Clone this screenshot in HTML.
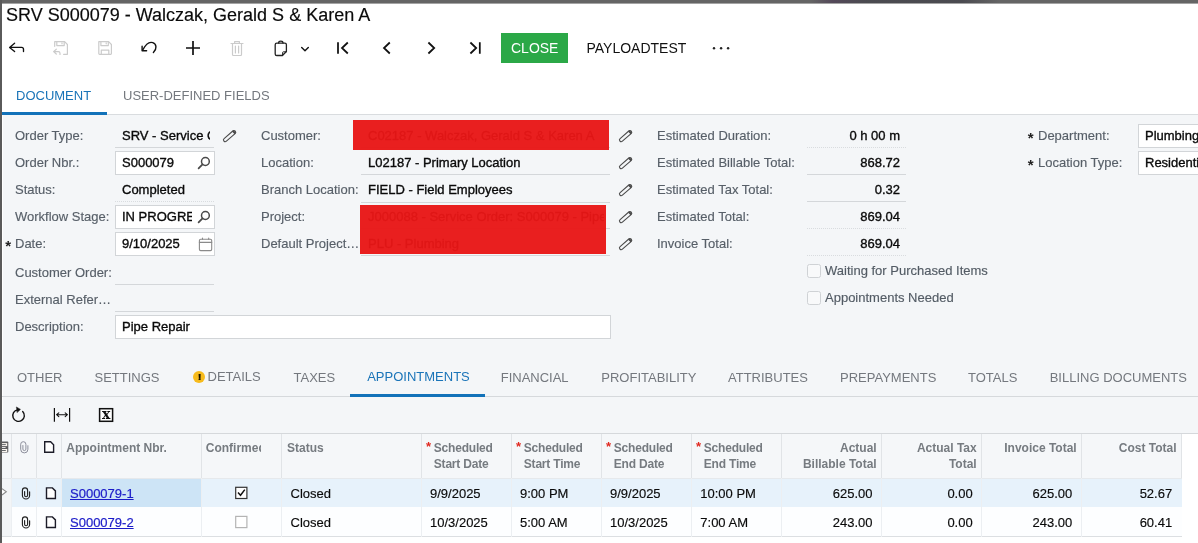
<!DOCTYPE html>
<html><head><meta charset="utf-8"><title>Service Orders</title>
<style>
html,body{margin:0;padding:0}
body{width:1198px;height:543px;overflow:hidden;background:#fff;position:relative;font-family:"Liberation Sans",sans-serif;font-size:13px;color:#111}
.a{position:absolute}
.t{position:absolute;white-space:nowrap;line-height:16px;font-size:13px}
.lb{color:#575f68;-webkit-text-stroke:0.15px #575f68}
.v{color:#0a0a0a;-webkit-text-stroke:0.35px #0a0a0a}
.tab{color:#74787e}
.box{position:absolute;background:#fff;border:1px solid #d2d5d8;box-sizing:border-box}
.ul{position:absolute;height:1px;background:#d4d7da}
.ud{position:absolute;height:0;border-top:1px dotted #d9dcdf}
svg{position:absolute;overflow:visible}
.h{position:absolute;white-space:nowrap;line-height:16px;font-size:12px;font-weight:bold;color:#767b80}
.vl{position:absolute;width:1px;background:#e1e4e7}
.r{text-align:right}
.star{color:#e0281f}
.gv{color:#0a0a0a;-webkit-text-stroke:0.15px #0a0a0a}
</style></head><body>
<!-- window chrome -->
<div class="a" style="left:0;top:0;width:1198px;height:3px;background:#656565"></div>
<div class="a" style="left:0;top:3px;width:1198px;height:1px;background:#a4a4a4"></div>
<div class="a" style="left:810px;top:0;width:190px;height:3px;background:linear-gradient(90deg,rgba(80,72,86,0),rgba(82,70,88,.9) 12%,rgba(72,72,78,.9) 30%,rgba(72,72,78,.9) 80%,rgba(80,78,86,0))"></div>
<div class="a" style="left:0;top:0;width:2px;height:543px;background:#5a5a5a"></div>

<!-- title -->
<div class="t" id="title" style="left:6px;top:4px;font-size:18px;line-height:22px;color:#0a0a0a;-webkit-text-stroke:0.15px #0a0a0a">SRV S000079 - Walczak, Gerald S &amp; Karen A</div>

<!-- toolbar -->
<svg id="tb" style="left:0;top:0" width="760" height="70" fill="none" stroke="#111" stroke-width="1.4" stroke-linecap="round" stroke-linejoin="round">
<!-- back -->
<path d="M14.6 43.2 L9.6 47.4 L14.6 51.6 M9.9 47.4 H21.6 Q23.5 47.4 23.5 49.3 V51.6" stroke-width="1.35"/>
<!-- save & close (disabled) -->
<g stroke="#cbcbcb" stroke-width="1.2">
<path d="M54.7 46.3 V41.7 H64.6 L67.4 44.5 V54.3 H63.6"/>
<path d="M56.8 41.7 V45.6 H64.2 V41.7 M62 42.8 V43.8"/>
<path d="M56.3 49.2 L53.6 51.6 L56.3 54 M53.9 51.6 H58.4 Q60 51.6 60 53.2 V54.4"/>
</g>
<!-- save (disabled) -->
<g stroke="#cbcbcb" stroke-width="1.2">
<path d="M98.8 41.7 H108.6 L111.4 44.5 V53.6 Q111.4 54.4 110.6 54.4 H99.6 Q98.8 54.4 98.8 53.6 Z"/>
<path d="M100.9 41.7 V45.6 H108.3 V41.7 M106.2 42.8 V43.8"/>
<path d="M101.3 54.4 V50.1 H108.8 V54.4"/>
</g>
<!-- undo -->
<path d="M153.4 52.4 C157.2 48.8 156.6 44.2 152.8 42.7 C149.2 41.4 146 43.8 142.6 50.2" stroke-width="1.4"/>
<path d="M142.1 46.2 V50.8 H146.6" stroke-width="1.4"/>
<!-- plus -->
<path d="M193 41 V55 M186 48 H200" stroke-width="1.7" stroke-linecap="butt"/>
<!-- trash (disabled) -->
<g stroke="#cbcbcb" stroke-width="1.2">
<path d="M231 43.5 H243 M234.6 43.5 V41.6 H239.4 V43.5 M232.5 43.5 V54.6 Q232.5 55.5 233.4 55.5 H240.6 Q241.5 55.5 241.5 54.6 V43.5 M235.4 46 V53 M238.6 46 V53"/>
</g>
<!-- clipboard -->
<g stroke="#222" stroke-width="1.3">
<path d="M282.4 55.5 H276.8 Q275.2 55.5 275.2 53.9 V44.7 Q275.2 43.1 276.8 43.1 H284.8 Q286.4 43.1 286.4 44.7 V51.5 Z"/>
<path d="M278.6 43 Q278.6 41.2 280.8 41.2 Q283 41.2 283 43"/>
<path d="M282.6 55.2 V52.6 Q282.6 51.8 283.4 51.8 H286.2" stroke-width="1"/>
</g>
<path d="M301.7 47.5 L305 50.7 L308.3 47.5" stroke-width="1.4"/>
<!-- nav -->
<g stroke-width="1.75" stroke-linecap="butt" stroke-linejoin="miter">
<path d="M338 42.2 V53.8 M347.8 42.5 L342 48 L347.8 53.5"/>
<path d="M389.8 42.5 L384 48 L389.8 53.5"/>
<path d="M428.4 42.5 L434.2 48 L428.4 53.5"/>
<path d="M470.4 42.5 L476.2 48 L470.4 53.5 M479.8 42.2 V53.8"/>
</g>
<!-- dots -->
<g fill="#222" stroke="none"><circle cx="714" cy="48.2" r="1.2"/><circle cx="721.1" cy="48.2" r="1.2"/><circle cx="728.1" cy="48.2" r="1.2"/></g>
</svg>
<div class="a" style="left:501px;top:33px;width:66.5px;height:30px;background:#2ba847"></div>
<div class="t" style="left:511px;top:40px;font-size:14px;line-height:16px;color:#fff">CLOSE</div>
<div class="t" style="left:586.5px;top:40px;font-size:14px;line-height:16px;color:#111">PAYLOADTEST</div>


<!-- tabs -->
<div class="t" style="left:16px;top:88px;color:#1a74b8">DOCUMENT</div>
<div class="t tab" style="left:123px;top:88px">USER-DEFINED FIELDS</div>
<div class="a" style="left:2px;top:114px;width:1196px;height:1px;background:#d9dcdf"></div>
<div class="a" style="left:2px;top:111.8px;width:105px;height:3.2px;background:#1272b9"></div>

<!-- form background -->
<div class="a" id="formbg" style="left:3.2px;top:115px;width:1195px;height:319px;background:#f4f6f8"></div>

<div class="t lb" style="left:15px;top:127.5px;">Order Type:</div>
<div class="t lb" style="left:15px;top:154.5px;">Order Nbr.:</div>
<div class="t lb" style="left:15px;top:181.5px;">Status:</div>
<div class="t lb" style="left:15px;top:208.5px;">Workflow Stage:</div>
<div class="t lb" style="left:15px;top:235.5px;">Date:</div>
<div class="t lb" style="left:15px;top:264.5px;">Customer Order:</div>
<div class="t lb" style="left:15px;top:291.5px;">External Refer…</div>
<div class="t lb" style="left:15px;top:318.5px;">Description:</div>
<div class="t" style="left:5.3px;top:237.6px;font-size:15px;font-weight:bold;color:#222">*</div>
<div class="t v" style="left:122px;top:127.5px;width:88px;overflow:hidden">SRV - Service Order</div>
<div class="ul" style="left:115px;top:147px;width:99px"></div>
<div class="box" style="left:115px;top:151px;width:99.5px;height:24px"></div>
<div class="t v" style="left:122px;top:154.5px;">S000079</div>
<div class="t v" style="left:122px;top:181.5px;">Completed</div>
<div class="ud" style="left:115px;top:201px;width:99px"></div>
<div class="box" style="left:115px;top:205px;width:99.5px;height:24px"></div>
<div class="t v" style="left:122px;top:208.5px;width:70px;overflow:hidden">IN PROGRESS</div>
<div class="box" style="left:115px;top:232px;width:99.5px;height:24px"></div>
<div class="t v" style="left:122px;top:235.5px;">9/10/2025</div>
<div class="ul" style="left:115px;top:284px;width:99px"></div>
<div class="ul" style="left:115px;top:310.5px;width:99px"></div>
<div class="box" style="left:115px;top:315px;width:495.5px;height:24px"></div>
<div class="t v" style="left:122px;top:318.5px;">Pipe Repair</div>
<div class="t lb" style="left:261px;top:127.5px;">Customer:</div>
<div class="t lb" style="left:261px;top:154.5px;">Location:</div>
<div class="t lb" style="left:261px;top:181.5px;">Branch Location:</div>
<div class="t lb" style="left:261px;top:208.5px;">Project:</div>
<div class="t lb" style="left:261px;top:235.5px;">Default Project…</div>
<div class="t v" style="left:368px;top:127.5px;">C02187 - Walczak, Gerald S &amp; Karen A</div>
<div class="t v" style="left:368px;top:154.5px;">L02187 - Primary Location</div>
<div class="t v" style="left:368px;top:181.5px;">FIELD - Field Employees</div>
<div class="t v" style="left:368px;top:208.5px;width:236px;overflow:hidden">J000088 - Service Order: S000079 - Pipe Repair</div>
<div class="t v" style="left:368px;top:235.5px;">PLU - Plumbing</div>
<div class="ul" style="left:361px;top:147px;width:249px"></div>
<div class="ul" style="left:361px;top:174px;width:249px"></div>
<div class="ul" style="left:361px;top:201.5px;width:249px"></div>
<div class="ul" style="left:361px;top:228px;width:249px"></div>
<div class="ul" style="left:361px;top:255px;width:249px"></div>
<div class="a" style="left:353px;top:119.5px;width:256px;height:30.5px;background:rgba(232,22,22,0.96)"></div>
<div class="a" style="left:360px;top:204.5px;width:245.5px;height:49px;background:rgba(232,22,22,0.96)"></div>
<div class="t lb" style="left:657px;top:127.5px;">Estimated Duration:</div>
<div class="t lb" style="left:657px;top:154.5px;">Estimated Billable Total:</div>
<div class="t lb" style="left:657px;top:181.5px;">Estimated Tax Total:</div>
<div class="t lb" style="left:657px;top:208.5px;">Estimated Total:</div>
<div class="t lb" style="left:657px;top:235.5px;">Invoice Total:</div>
<div class="t v r" style="left:807px;width:93px;top:127.5px">0 h 00 m</div>
<div class="t v r" style="left:807px;width:93px;top:154.5px">868.72</div>
<div class="t v r" style="left:807px;width:93px;top:181.5px">0.32</div>
<div class="t v r" style="left:807px;width:93px;top:208.5px">869.04</div>
<div class="t v r" style="left:807px;width:93px;top:235.5px">869.04</div>
<div class="ud" style="left:807px;top:147px;width:99px"></div>
<div class="ul" style="left:807px;top:174px;width:99px"></div>
<div class="ul" style="left:807px;top:201px;width:99px"></div>
<div class="ud" style="left:807px;top:228px;width:99px"></div>
<div class="ud" style="left:807px;top:255px;width:99px"></div>
<div class="a" style="left:807px;top:264px;width:14px;height:14px;box-sizing:border-box;border:1px solid #cfd2d5;border-radius:2.5px;background:#f8f9fa"></div>
<div class="t lb" style="left:825px;top:262.5px;color:#525b64">Waiting for Purchased Items</div>
<div class="a" style="left:807px;top:291px;width:14px;height:14px;box-sizing:border-box;border:1px solid #cfd2d5;border-radius:2.5px;background:#f8f9fa"></div>
<div class="t lb" style="left:825px;top:289.5px;color:#525b64">Appointments Needed</div>
<div class="t" style="left:1027.8px;top:129.8px;font-size:15px;font-weight:bold;color:#222">*</div>
<div class="t" style="left:1027.8px;top:156.8px;font-size:15px;font-weight:bold;color:#222">*</div>
<div class="t lb" style="left:1038px;top:127.5px;">Department:</div>
<div class="t lb" style="left:1038px;top:154.5px;">Location Type:</div>
<div class="box" style="left:1137.5px;top:124px;width:80px;height:24px"></div>
<div class="box" style="left:1137.5px;top:151px;width:80px;height:24px"></div>
<div class="t v" style="left:1145px;top:127.5px;">Plumbing</div>
<div class="t v" style="left:1145px;top:154.5px;">Residential</div>

<svg id="ficons" style="left:0;top:0" width="1198" height="440" fill="none" stroke="#4a4a4a" stroke-width="1.1" stroke-linecap="round">
<g transform="translate(229.6 136.1) rotate(-41)"><rect x="-7.5" y="-1.75" width="15" height="3.5" rx="1.75" ry="1.75"/><path d="M5.5 -1.6 V1.6 M6.4 -1.3 V1.3" stroke-width="1.1"/></g>
<g transform="translate(625.6 136.1) rotate(-41)"><rect x="-7.5" y="-1.75" width="15" height="3.5" rx="1.75" ry="1.75"/><path d="M5.5 -1.6 V1.6 M6.4 -1.3 V1.3" stroke-width="1.1"/></g>
<g transform="translate(625.6 163.1) rotate(-41)"><rect x="-7.5" y="-1.75" width="15" height="3.5" rx="1.75" ry="1.75"/><path d="M5.5 -1.6 V1.6 M6.4 -1.3 V1.3" stroke-width="1.1"/></g>
<g transform="translate(625.6 190.1) rotate(-41)"><rect x="-7.5" y="-1.75" width="15" height="3.5" rx="1.75" ry="1.75"/><path d="M5.5 -1.6 V1.6 M6.4 -1.3 V1.3" stroke-width="1.1"/></g>
<g transform="translate(625.6 217.1) rotate(-41)"><rect x="-7.5" y="-1.75" width="15" height="3.5" rx="1.75" ry="1.75"/><path d="M5.5 -1.6 V1.6 M6.4 -1.3 V1.3" stroke-width="1.1"/></g>
<g transform="translate(625.6 244.1) rotate(-41)"><rect x="-7.5" y="-1.75" width="15" height="3.5" rx="1.75" ry="1.75"/><path d="M5.5 -1.6 V1.6 M6.4 -1.3 V1.3" stroke-width="1.1"/></g>
<circle cx="205.4" cy="161.5" r="3.9" stroke-width="1.5"/><path d="M202.5 164.4 L198.6 168.3" stroke-width="1.75"/><circle cx="205.4" cy="215.5" r="3.9" stroke-width="1.5"/><path d="M202.5 218.4 L198.6 222.3" stroke-width="1.75"/>
<g stroke="#8a8a8a" stroke-width="1.1"><rect x="199.4" y="239.3" width="12.3" height="11.3" rx="1.3"/><path d="M199.4 242.4 H211.7 M202.5 238 V239.3 M208.7 238 V239.3"/></g>
</svg>
<div class="t tab" style="left:17px;top:370.0px;">OTHER</div>
<div class="t tab" style="left:94.5px;top:370.0px;">SETTINGS</div>
<div class="t tab" style="left:207.5px;top:369.0px;">DETAILS</div>
<div class="t tab" style="left:293.5px;top:370.0px;">TAXES</div>
<div class="t tab" style="left:367.2px;top:369.0px;color:#1a74b8">APPOINTMENTS</div>
<div class="t tab" style="left:500.7px;top:370.0px;">FINANCIAL</div>
<div class="t tab" style="left:601.3px;top:370.0px;">PROFITABILITY</div>
<div class="t tab" style="left:728px;top:370.0px;">ATTRIBUTES</div>
<div class="t tab" style="left:840px;top:370.0px;">PREPAYMENTS</div>
<div class="t tab" style="left:968px;top:370.0px;">TOTALS</div>
<div class="t tab" style="left:1049.7px;top:370.0px;">BILLING DOCUMENTS</div>
<div class="a" style="left:2px;top:396px;width:1196px;height:1px;background:#d6d9dc"></div>
<div class="a" style="left:350.3px;top:393.6px;width:135px;height:3.2px;background:#1272b9"></div>
<div class="a" style="left:193px;top:370.7px;width:12.3px;height:12.3px;border-radius:50%;background:#f7bb1c"></div>
<div class="t" style="left:197.8px;top:368.8px;font-size:10px;font-weight:bold;color:#1a1200;line-height:16px;-webkit-text-stroke:0.25px #1a1200;transform:scale(1.15,0.9)">!</div>
<svg id="gicons" style="left:0;top:400px" width="130" height="30" fill="none" stroke="#111" stroke-width="1.4" stroke-linecap="round" stroke-linejoin="round">
<path d="M22.7 11.5 A5.8 5.8 0 1 1 17.6 9.85" stroke-width="1.4"/>
<path d="M16.7 7.2 L20.4 9.4 L17.3 12.3 Z" fill="#111" stroke-width="0.6"/>
<path d="M54.4 8 V21.8 M69.6 8 V21.8" stroke-width="1.2" stroke-linecap="butt"/>
<path d="M56.8 14.7 H67.2 M58.8 12.8 L56.6 14.7 L58.8 16.6 M65.2 12.8 L67.4 14.7 L65.2 16.6" stroke-width="1.1"/>
<rect x="99.6" y="8.7" width="13" height="12.6" stroke-width="1.5" fill="#fff" stroke-linejoin="miter"/>
</svg>
<div class="t" style="left:101.9px;top:405.6px;font-family:'DejaVu Serif',serif;font-style:normal;font-weight:bold;font-size:14px;line-height:16px;color:#111">x</div>

<div class="a" style="left:2px;top:434px;width:1179.5px;height:44px;background:#f5f7f9"></div>
<div class="a" style="left:1181.5px;top:434px;width:17px;height:109px;background:#fff"></div>
<div class="a" style="left:2px;top:478px;width:9.5px;height:58.5px;background:#f3f5f7"></div>
<div class="a" style="left:11.5px;top:478px;width:1170px;height:29.2px;background:#e7f2fb"></div>
<div class="a" style="left:62px;top:478px;width:139.5px;height:29.2px;background:#cde4f6"></div>
<div class="a" style="left:11.5px;top:507.2px;width:1170px;height:29.3px;background:#fdfeff"></div>
<div class="a" style="left:2px;top:433px;width:1196px;height:1px;background:#d5d8db"></div>
<div class="a" style="left:2px;top:478px;width:1179.5px;height:1px;background:#e6e9ec"></div>
<div class="a" style="left:2px;top:536px;width:1179.5px;height:1px;background:#dcdfe2"></div>
<div class="vl" style="left:11.0px;top:434px;height:44px"></div>
<div class="vl" style="left:11.0px;top:478px;height:58.5px;background:#eceff2"></div>
<div class="vl" style="left:36.2px;top:434px;height:44px"></div>
<div class="vl" style="left:36.2px;top:478px;height:58.5px;background:#eceff2"></div>
<div class="vl" style="left:61.2px;top:434px;height:44px"></div>
<div class="vl" style="left:61.2px;top:478px;height:58.5px;background:#eceff2"></div>
<div class="vl" style="left:200.7px;top:434px;height:44px"></div>
<div class="vl" style="left:200.7px;top:478px;height:58.5px;background:#eceff2"></div>
<div class="vl" style="left:280.7px;top:434px;height:44px"></div>
<div class="vl" style="left:280.7px;top:478px;height:58.5px;background:#eceff2"></div>
<div class="vl" style="left:420.7px;top:434px;height:44px"></div>
<div class="vl" style="left:420.7px;top:478px;height:58.5px;background:#eceff2"></div>
<div class="vl" style="left:510.7px;top:434px;height:44px"></div>
<div class="vl" style="left:510.7px;top:478px;height:58.5px;background:#eceff2"></div>
<div class="vl" style="left:600.7px;top:434px;height:44px"></div>
<div class="vl" style="left:600.7px;top:478px;height:58.5px;background:#eceff2"></div>
<div class="vl" style="left:690.7px;top:434px;height:44px"></div>
<div class="vl" style="left:690.7px;top:478px;height:58.5px;background:#eceff2"></div>
<div class="vl" style="left:780.5px;top:434px;height:44px"></div>
<div class="vl" style="left:780.5px;top:478px;height:58.5px;background:#eceff2"></div>
<div class="vl" style="left:880.5px;top:434px;height:44px"></div>
<div class="vl" style="left:880.5px;top:478px;height:58.5px;background:#eceff2"></div>
<div class="vl" style="left:980.7px;top:434px;height:44px"></div>
<div class="vl" style="left:980.7px;top:478px;height:58.5px;background:#eceff2"></div>
<div class="vl" style="left:1080.5px;top:434px;height:44px"></div>
<div class="vl" style="left:1080.5px;top:478px;height:58.5px;background:#eceff2"></div>
<div class="vl" style="left:1180.5px;top:434px;height:44px"></div>
<div class="h" style="left:66.3px;top:440px;">Appointment Nbr.</div>
<div class="h" style="left:205.8px;top:440px;width:55px;overflow:hidden">Confirmed</div>
<div class="h" style="left:287px;top:440px;">Status</div>
<div class="h" style="left:425.9px;top:439px;font-size:13px;font-weight:bold"><span class="star">*</span></div>
<div class="h" style="left:433.8px;top:440px;letter-spacing:-0.2px;">Scheduled</div>
<div class="h" style="left:433.8px;top:456px;letter-spacing:-0.2px;">Start Date</div>
<div class="h" style="left:515.9px;top:439px;font-size:13px;font-weight:bold"><span class="star">*</span></div>
<div class="h" style="left:523.8px;top:440px;letter-spacing:-0.2px;">Scheduled</div>
<div class="h" style="left:523.8px;top:456px;letter-spacing:-0.2px;">Start Time</div>
<div class="h" style="left:605.9px;top:439px;font-size:13px;font-weight:bold"><span class="star">*</span></div>
<div class="h" style="left:613.8px;top:440px;letter-spacing:-0.2px;">Scheduled</div>
<div class="h" style="left:613.8px;top:456px;letter-spacing:-0.2px;">End Date</div>
<div class="h" style="left:695.9px;top:439px;font-size:13px;font-weight:bold"><span class="star">*</span></div>
<div class="h" style="left:703.8px;top:440px;letter-spacing:-0.2px;">Scheduled</div>
<div class="h" style="left:703.8px;top:456px;letter-spacing:-0.2px;">End Time</div>
<div class="h r" style="left:776.7px;width:100px;top:440px">Actual</div>
<div class="h r" style="left:776.7px;width:100px;top:456px">Billable Total</div>
<div class="h r" style="left:876.7px;width:100px;top:440px">Actual Tax</div>
<div class="h r" style="left:876.7px;width:100px;top:456px">Total</div>
<div class="h r" style="left:976.7px;width:100px;top:440px">Invoice Total</div>
<div class="h r" style="left:1076.5px;width:100px;top:440px">Cost Total</div>
<div class="t gv" style="left:70px;top:485.5px;color:#1b1bc8;-webkit-text-stroke:0.2px #1b1bc8;text-decoration:underline">S000079-1</div>
<div class="t gv" style="left:290.5px;top:485.5px;">Closed</div>
<div class="t gv" style="left:430px;top:485.5px;">9/9/2025</div>
<div class="t gv" style="left:520px;top:485.5px;">9:00 PM</div>
<div class="t gv" style="left:610px;top:485.5px;">9/9/2025</div>
<div class="t gv" style="left:700.3px;top:485.5px;">10:00 PM</div>
<div class="t gv r" style="left:782.5px;width:90px;top:485.5px">625.00</div>
<div class="t gv r" style="left:882.7px;width:90px;top:485.5px">0.00</div>
<div class="t gv r" style="left:982.3px;width:90px;top:485.5px">625.00</div>
<div class="t gv r" style="left:1082.2px;width:90px;top:485.5px">52.67</div>
<div class="t gv" style="left:70px;top:515.2px;color:#1b1bc8;-webkit-text-stroke:0.2px #1b1bc8;text-decoration:underline">S000079-2</div>
<div class="t gv" style="left:290.5px;top:515.2px;">Closed</div>
<div class="t gv" style="left:430px;top:515.2px;">10/3/2025</div>
<div class="t gv" style="left:520px;top:515.2px;">5:00 AM</div>
<div class="t gv" style="left:610px;top:515.2px;">10/3/2025</div>
<div class="t gv" style="left:700.3px;top:515.2px;">7:00 AM</div>
<div class="t gv r" style="left:782.5px;width:90px;top:515.2px">243.00</div>
<div class="t gv r" style="left:882.7px;width:90px;top:515.2px">0.00</div>
<div class="t gv r" style="left:982.3px;width:90px;top:515.2px">243.00</div>
<div class="t gv r" style="left:1082.2px;width:90px;top:515.2px">60.41</div>
<svg id="gridicons" style="left:0;top:0" width="300" height="543">
<g transform="translate(20.3 441.1)" stroke="#8d8f9c" stroke-width="1.0" fill="none" stroke-linecap="round"><path d="M7.6 4.6 V8.2 A3.6 3.6 0 0 1 0.4 8.2 V3.2 A2.6 2.6 0 0 1 5.6 3.2 V8 A1.5 1.5 0 0 1 2.6 8 V4.4"/></g><g transform="translate(44 441)" stroke="#1c1c28" stroke-width="1.4" fill="#fff" stroke-linejoin="miter"><path d="M0.7 0.7 H6.6 L9.6 3.7 V11.3 H0.7 Z"/></g>
<g transform="translate(22 487.2)" stroke="#222" stroke-width="1.15" fill="none" stroke-linecap="round"><path d="M7.6 4.6 V8.2 A3.6 3.6 0 0 1 0.4 8.2 V3.2 A2.6 2.6 0 0 1 5.6 3.2 V8 A1.5 1.5 0 0 1 2.6 8 V4.4"/></g><g transform="translate(45.8 487.2)" stroke="#1c1c28" stroke-width="1.4" fill="#fff" stroke-linejoin="miter"><path d="M0.7 0.7 H6.6 L9.6 3.7 V11.3 H0.7 Z"/></g>
<g transform="translate(22 516.2)" stroke="#222" stroke-width="1.15" fill="none" stroke-linecap="round"><path d="M7.6 4.6 V8.2 A3.6 3.6 0 0 1 0.4 8.2 V3.2 A2.6 2.6 0 0 1 5.6 3.2 V8 A1.5 1.5 0 0 1 2.6 8 V4.4"/></g><g transform="translate(45.8 516.2)" stroke="#1c1c28" stroke-width="1.4" fill="#fff" stroke-linejoin="miter"><path d="M0.7 0.7 H6.6 L9.6 3.7 V11.3 H0.7 Z"/></g>
<g><rect x="-2" y="441.6" width="10.3" height="11" rx="0.8" fill="#5e5e60"/><rect x="2" y="443.1" width="5.2" height="3" fill="#fbf6f0"/><rect x="2" y="449" width="5.2" height="3" fill="#fbf6f0"/><path d="M2 444.6 H5.8 M2 450.5 H5.8" stroke="#55585c" stroke-width="0.9"/><path d="M2 447.5 H5.6" stroke="#eee" stroke-width="0.9"/></g>
<path d="M2 488.6 L6.3 491.8 L2 495" fill="#fff" stroke="#8a8a8a" stroke-width="1.1"/>
<rect x="235.7" y="487.3" width="11.2" height="11.2" fill="#fff" stroke="#333" stroke-width="1.2"/><path d="M238 492.6 L240.5 495.3 L244.8 489.6" fill="none" stroke="#111" stroke-width="1.5"/>
<rect x="235.7" y="516.4" width="11.2" height="11.2" fill="#fff" stroke="#b4b4b4" stroke-width="1.2"/>
</svg>
<div class="a" style="left:0;top:0;width:2px;height:543px;background:#5a5a5a"></div>

</body></html>
